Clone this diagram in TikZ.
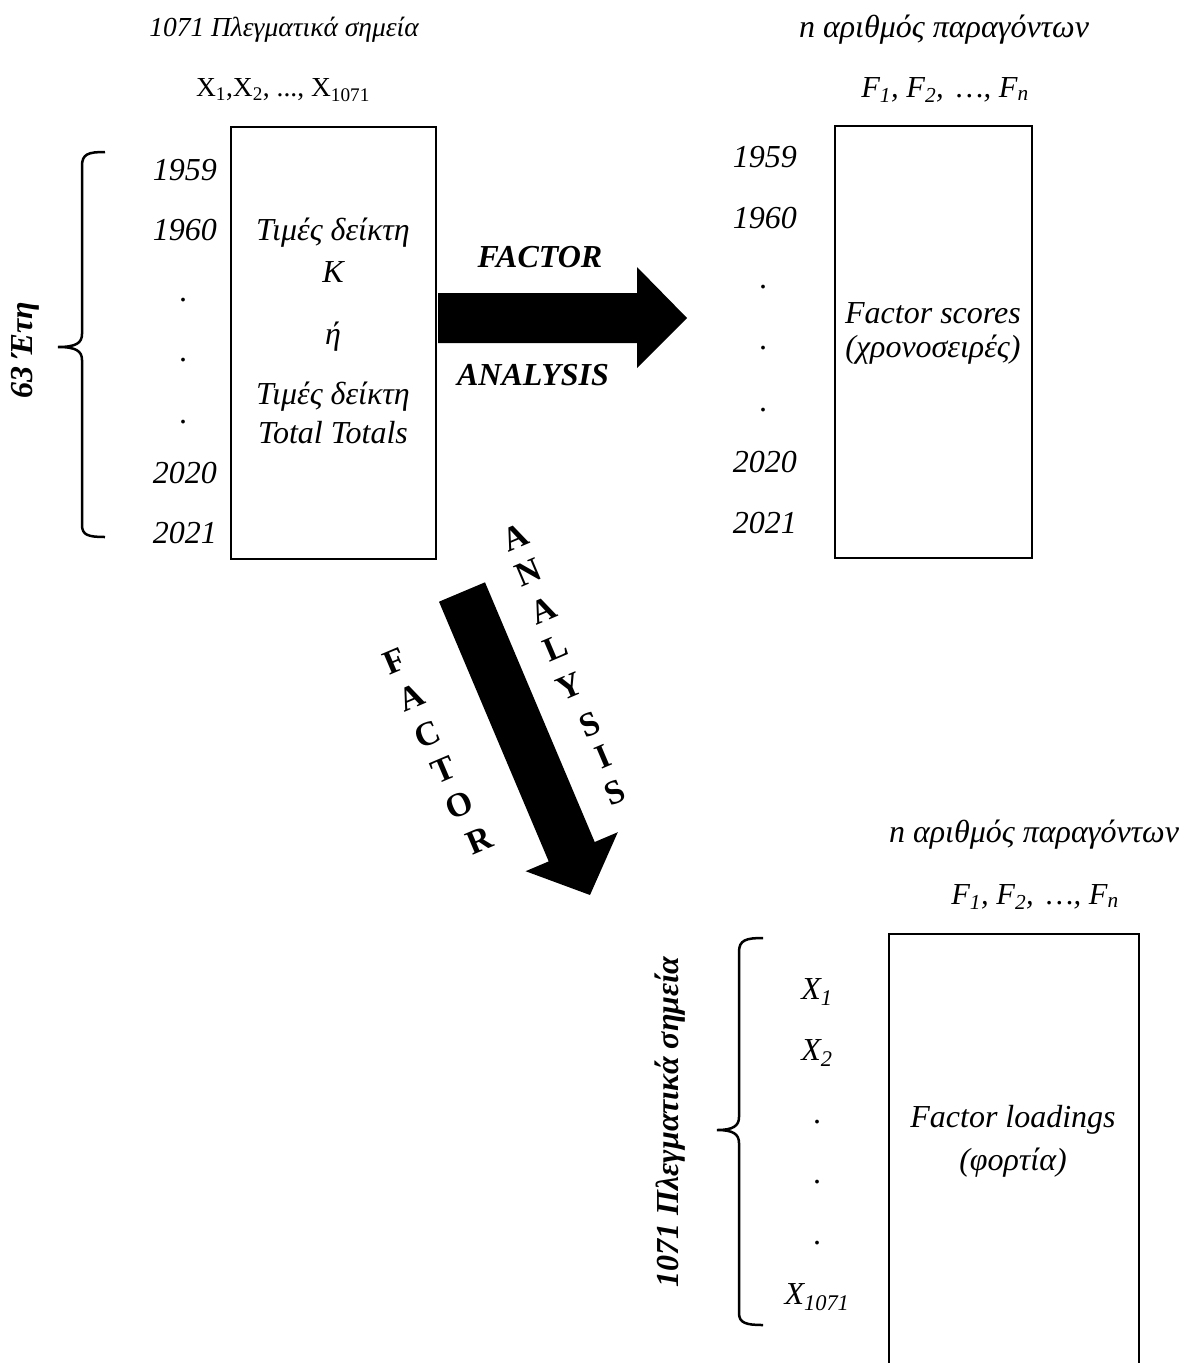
\documentclass[tikz,border=0pt]{standalone}
\usepackage{fontspec}
\setmainfont{Liberation Serif}
\begin{document}
\begin{tikzpicture}[x=1pt,y=-1pt,
  up/.style={font=\fontsize{32}{38}\selectfont, inner sep=0pt},
  it/.style={font=\fontsize{32}{38}\selectfont\itshape, inner sep=0pt},
  bi/.style={font=\fontsize{32}{38}\selectfont\bfseries\itshape, inner sep=0pt},
  yr/.style={it, anchor=east},
  dotlbl/.style={font=\fontsize{32}{38}\selectfont, inner sep=0pt},
  letter/.style={font=\fontsize{34}{40}\selectfont\bfseries, rotate=23, inner sep=0pt},
  box/.style={draw, line width=2.8pt, inner sep=0pt},
  bracepath/.style={line width=2.5pt},
  blockarrow/.style={fill=black, draw=none}]
\useasboundingbox (0,0) rectangle (1184,1363);

% ---------- left input matrix ----------
\node[it, font=\fontsize{27.5}{33}\selectfont\itshape] (topA) at (284,30) {1071 Πλεγματικά σημεία};
\node[up, font=\fontsize{27.5}{33}\selectfont] (topX) at (283,90) {X\textsubscript{1},X\textsubscript{2}, ..., X\textsubscript{1071}};
\node[box, minimum width=205pt, minimum height=432pt] (boxK) at (333.5,343) {};
\node[it] (k1) at (333,233) {Τιμές δείκτη};
\node[it] (k2) at (333,272) {K};
\node[it] (k3) at (333,337) {ή};
\node[it] (k4) at (333,397) {Τιμές δείκτη};
\node[it] (k5) at (333,433) {Total Totals};

\node[yr] (a1959) at (217,170) {1959};
\node[yr] (a1960) at (217,230) {1960};
\node[dotlbl] (ad1) at (183,300) {.};
\node[dotlbl] (ad2) at (183,360) {.};
\node[dotlbl] (ad3) at (183,422) {.};
\node[yr] (a2020) at (217,473) {2020};
\node[yr] (a2021) at (217,533) {2021};

\draw[bracepath] (105,152) .. controls (88,152) and (82,154) .. (82,166) -- (82,334)
  .. controls (82,343) and (76,347) .. (58,347)
  .. controls (76,347) and (82,351) .. (82,360) -- (82,525)
  .. controls (82,535) and (88,537) .. (105,537);
\node[bi, rotate=90] (yrs) at (25,350) {63 Έτη};

% ---------- horizontal block arrow ----------
\fill[blockarrow] (438,293) -- (637,293) -- (637,267) -- (687,318) -- (637,368) -- (637,343) -- (438,343) -- cycle;
\node[bi] (fa1) at (540,257) {FACTOR};
\node[bi] (fa2) at (533,375) {ANALYSIS};

% ---------- right factor scores ----------
\node[it] (topN) at (944,30) {n αριθμός παραγόντων};
\node[it, font=\fontsize{30.5}{36}\selectfont\itshape] (topF) at (945,90) {F\textsubscript{1}, F\textsubscript{2}, \,…, F\textsubscript{n}};
\node[box, minimum width=197pt, minimum height=432pt] (boxS) at (933.5,342) {};
\node[it] (s1) at (933,313) {Factor scores};
\node[it] (s2) at (933,350) {(χρονοσειρές)};

\node[yr] (b1959) at (797,157) {1959};
\node[yr] (b1960) at (797,218) {1960};
\node[dotlbl] (bd1) at (763,287) {.};
\node[dotlbl] (bd2) at (763,348) {.};
\node[dotlbl] (bd3) at (763,410) {.};
\node[yr] (b2020) at (797,462) {2020};
\node[yr] (b2021) at (797,523) {2021};

% ---------- diagonal block arrow ----------
\fill[blockarrow] (485,582.3) -- (594.7,842) -- (617.8,832.2) -- (590,895) -- (525.6,871.2) -- (548.7,861.4) -- (439,601.7) -- cycle;
\node[letter] (dA1) at (515,537) {A};
\node[letter] (dN1) at (528,572) {N};
\node[letter] (dA2) at (543,610) {A};
\node[letter] (dL1) at (556,648) {L};
\node[letter] (dY1) at (569,686) {Y};
\node[letter] (dS1) at (590,725) {S};
\node[letter] (dI1) at (603,757) {I};
\node[letter] (dS2) at (615,793) {S};
\node[letter] (dF) at (395,661) {F};
\node[letter] (dA3) at (411,697) {A};
\node[letter] (dC) at (427,734) {C};
\node[letter] (dT) at (444,770) {T};
\node[letter] (dO) at (459,805) {O};
\node[letter] (dR) at (479,840) {R};

% ---------- bottom factor loadings ----------
\node[it] (botN) at (1034,835) {n αριθμός παραγόντων};
\node[it, font=\fontsize{30.5}{36}\selectfont\itshape] (botF) at (1035,897) {F\textsubscript{1}, F\textsubscript{2}, \,…, F\textsubscript{n}};
\node[box, minimum width=250pt, minimum height=452pt] (boxL) at (1014,1160) {};
\node[it] (l1) at (1013,1120) {Factor loadings};
\node[it] (l2) at (1013,1163) {(φορτία)};

\node[it] (x1) at (817,992) {X\textsubscript{1}};
\node[it] (x2) at (817,1053) {X\textsubscript{2}};
\node[dotlbl] (xd1) at (817,1122) {.};
\node[dotlbl] (xd2) at (817,1182) {.};
\node[dotlbl] (xd3) at (817,1243) {.};
\node[it] (x1071) at (817,1297) {X\textsubscript{1071}};

\draw[bracepath] (763,938) .. controls (746,938) and (739,940) .. (739,952) -- (739,1117)
  .. controls (739,1126) and (733,1130) .. (717,1130)
  .. controls (733,1130) and (739,1134) .. (739,1143) -- (739,1313)
  .. controls (739,1323) and (746,1325) .. (763,1325);
\node[bi, rotate=90] (pts) at (670,1122) {1071 Πλεγματικά σημεία};
\end{tikzpicture}
\end{document}
